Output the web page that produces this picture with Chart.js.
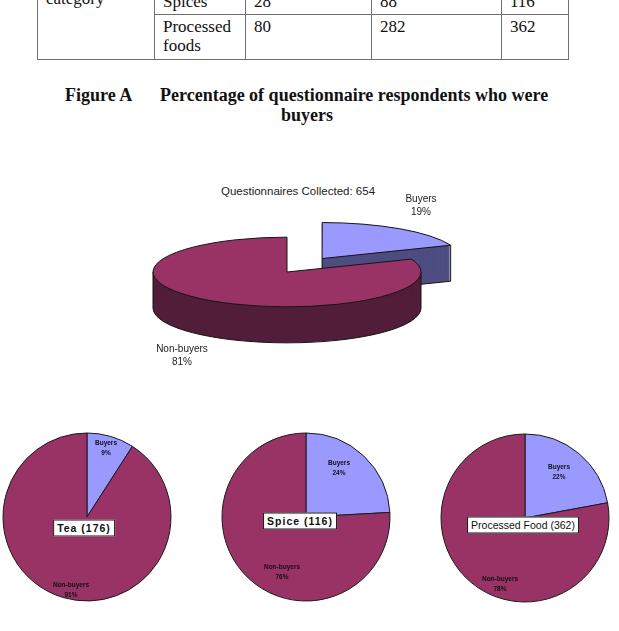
<!DOCTYPE html>
<html>
<head>
<meta charset="utf-8">
<script src="https://cdn.jsdelivr.net/npm/chart.js@4/dist/chart.umd.min.js"></script>
<style>
  body { margin:0; width:619px; height:631px; overflow:hidden; background:#fff; position:relative; font-family:"Liberation Serif", serif; color:#111; }
  #tbl { position:absolute; left:37px; top:-30px; border-collapse:collapse; table-layout:fixed; width:531px; font-size:17px; line-height:19px; }
  #tbl td { border:1px solid #707070; padding:0 6px 0 8px; vertical-align:top; }
  #tbl tr.r1 td { vertical-align:bottom; padding-bottom:3px; }
  #tbl tr.r2 td { padding-top:2px; }
  #tbl td.cat { vertical-align:top !important; padding-top:18px; }
  .fig { position:absolute; font-weight:bold; font-size:18px; white-space:nowrap; }
  canvas { position:absolute; }
  .lbl { position:absolute; transform:translate(-50%,-50%); text-align:center; white-space:nowrap; font-family:"Liberation Sans", sans-serif; }
  .big { font-size:10px; line-height:13px; color:#222; }
  .small { font-size:6.5px; line-height:10px; color:#111; font-weight:bold; }
  .box { position:absolute; transform:translate(-50%,-50%); background:#fff; border:1px solid #111; font-family:"Liberation Sans", sans-serif; font-size:10.5px; line-height:15px; padding:0 3px; white-space:nowrap; }
</style>
</head>
<body>

<table id="tbl">
  <colgroup><col style="width:117px"><col style="width:91px"><col style="width:126px"><col style="width:130px"><col style="width:67px"></colgroup>
  <tbody id="tbody"></tbody>
</table>

<div class="fig" style="left:65px;top:85px;">Figure A</div>
<div class="fig" style="left:160px;top:85px;">Percentage of questionnaire respondents who were</div>
<div class="fig" style="left:307px;top:105px;transform:translateX(-50%);">buyers</div>

<div class="lbl" id="bigTitle" style="left:298px;top:191px;font-size:11.5px;color:#222;"></div>
<canvas id="bigPie" width="400" height="200" style="left:87px;top:172px;"></canvas>

<canvas id="pie0" width="180" height="180" style="left:-3px;top:427px;"></canvas>
<canvas id="pie1" width="180" height="180" style="left:216px;top:427px;"></canvas>
<canvas id="pie2" width="180" height="180" style="left:435px;top:428px;"></canvas>

<div id="labels"></div>

<script>
// data
var categories = ['Tea', 'Spice', 'Processed Food'];
var buyers = [16, 28, 80];
var nonBuyers = [160, 88, 282];
var sliceLabels = ['Buyers', 'Non-buyers'];
var tableRows = ['Spices', 'Processed foods'];
var tableIndex = [1, 2];

var pieColors = ['#9999ff', '#993366'];
var sideColors = ['#4d4d82', '#521d38'];

function sum(arr) {
  var s = 0;
  for (var i = 0; i < arr.length; i++) s = s + arr[i];
  return s;
}
function pct(v, total) {
  return Math.round(100 * v / total) + '%';
}

// table (only the bottom rows are on the page)
var tb = document.getElementById('tbody');
var html = '';
for (var i = 0; i < tableRows.length; i++) {
  var j = tableIndex[i];
  html += '<tr class="r' + (i + 1) + '" style="height:' + (i == 0 ? 44 : 45) + 'px">';
  if (i == 0) html += '<td class="cat" rowspan="2">category</td>';
  html += '<td>' + tableRows[i] + '</td><td>' + buyers[j] + '</td><td>' + nonBuyers[j] + '</td><td>' + (buyers[j] + nonBuyers[j]) + '</td></tr>';
}
tb.innerHTML = html;

// geometry of an arc as Chart.js draws it, flattened by k
function geom(a, k) {
  var off = (a.options.offset || 0) / 4;
  var h = (a.startAngle + a.endAngle) / 2;
  var fix = 1 - Math.sin(Math.min(Math.PI, a.circumference));
  return {
    x: a.x + Math.cos(h) * off,
    y: a.y + Math.sin(h) * off * k,
    r: a.outerRadius + off * fix,
    s: a.startAngle,
    e: a.endAngle
  };
}

function drawSide(ctx, a, k, depth, color) {
  var g = geom(a, k);
  var ry = g.r * k;
  ctx.save();
  ctx.fillStyle = color;
  for (var d = 1; d <= depth; d++) {
    ctx.beginPath();
    ctx.moveTo(g.x, g.y + d);
    ctx.ellipse(g.x, g.y + d, g.r, ry, 0, g.s, g.e);
    ctx.closePath();
    ctx.fill();
  }
  ctx.strokeStyle = '#151515';
  ctx.lineWidth = 1;
  ctx.beginPath();
  var bases = [0, 2 * Math.PI, -2 * Math.PI];
  for (var b = 0; b < bases.length; b++) {
    var s = Math.max(g.s, bases[b]), e = Math.min(g.e, bases[b] + Math.PI);
    if (e > s) {
      ctx.moveTo(g.x + g.r * Math.cos(s), g.y + ry * Math.sin(s));
      ctx.lineTo(g.x + g.r * Math.cos(s), g.y + ry * Math.sin(s) + depth);
      ctx.ellipse(g.x, g.y + depth, g.r, ry, 0, s, e);
      ctx.lineTo(g.x + g.r * Math.cos(e), g.y + ry * Math.sin(e));
    }
  }
  var edges = [];
  if (Math.cos(g.e) > 0.01) edges.push(g.e);
  if (Math.cos(g.s) < -0.01) edges.push(g.s);
  for (var n = 0; n < edges.length; n++) {
    var ex = g.x + g.r * Math.cos(edges[n]), ey = g.y + ry * Math.sin(edges[n]);
    ctx.moveTo(g.x, g.y);
    ctx.lineTo(g.x, g.y + depth);
    ctx.lineTo(ex, ey + depth);
    ctx.lineTo(ex, ey);
  }
  ctx.stroke();
  ctx.restore();
}

var pie3d = {
  id: 'pie3d',
  beforeDatasetsDraw: function (chart, args, opts) {
    var ctx = chart.ctx;
    var arcs = chart.getDatasetMeta(0).data;
    for (var i = 0; i < arcs.length; i++) {
      drawSide(ctx, arcs[i], opts.tilt, opts.depth, opts.sideColors[i]);
    }
    var cx = arcs[0].x, cy = arcs[0].y;
    ctx.save();
    ctx.translate(cx, cy);
    ctx.scale(1, opts.tilt);
    ctx.translate(-cx, -cy);
  },
  afterDatasetsDraw: function (chart, args, opts) {
    var ctx = chart.ctx;
    ctx.restore();
    var arcs = chart.getDatasetMeta(0).data;
    ctx.save();
    ctx.strokeStyle = '#151515';
    ctx.lineWidth = 1;
    for (var i = 0; i < arcs.length; i++) {
      var g = geom(arcs[i], opts.tilt);
      ctx.beginPath();
      ctx.moveTo(g.x, g.y);
      ctx.ellipse(g.x, g.y, g.r, g.r * opts.tilt, 0, g.s, g.e);
      ctx.closePath();
      ctx.stroke();
    }
    ctx.restore();
  }
};

var totalBuyers = sum(buyers);
var totalNon = sum(nonBuyers);
var total = totalBuyers + totalNon;

new Chart(document.getElementById('bigPie'), {
  type: 'pie',
  data: {
    labels: sliceLabels,
    datasets: [{
      data: [totalBuyers, totalNon],
      backgroundColor: pieColors,
      borderWidth: 0,
      offset: [250, 0],
      hoverOffset: 0,
      clip: false
    }]
  },
  options: {
    responsive: false,
    animation: false,
    events: [],
    radius: 134,
    cutout: '0%',
    layout: { padding: 0 },
    plugins: {
      legend: { display: false },
      tooltip: { enabled: false },
      pie3d: { tilt: 0.26, depth: 36, sideColors: sideColors }
    }
  },
  plugins: [pie3d]
});

for (var p = 0; p < categories.length; p++) {
  new Chart(document.getElementById('pie' + p), {
    type: 'pie',
    data: {
      labels: sliceLabels,
      datasets: [{
        data: [buyers[p], nonBuyers[p]],
        backgroundColor: pieColors,
        borderColor: '#1a1a1a',
        borderWidth: 1,
        hoverOffset: 0
      }]
    },
    options: {
      responsive: false,
      animation: false,
      events: [],
      radius: 84,
      layout: { padding: 0 },
      plugins: { legend: { display: false }, tooltip: { enabled: false } }
    }
  });
}

// text labels
document.getElementById('bigTitle').textContent = 'Questionnaires Collected: ' + total;

var bigLabelPos = [[421, 205], [182, 355]];
var smallLabelPos = [
  [[106, 448], [71, 590]],
  [[339, 468], [282, 572]],
  [[559, 472], [500, 584]]
];
var boxPos = [[84, 528], [300, 521], [523, 525]];
var boxBold = [true, true, false];

var out = '';
var bigVals = [totalBuyers, totalNon];
for (var i = 0; i < 2; i++) {
  out += '<div class="lbl big" style="left:' + bigLabelPos[i][0] + 'px;top:' + bigLabelPos[i][1] + 'px">' +
    sliceLabels[i] + '<br>' + pct(bigVals[i], total) + '</div>';
}
for (var p = 0; p < categories.length; p++) {
  var t = buyers[p] + nonBuyers[p];
  var vals = [buyers[p], nonBuyers[p]];
  for (var i = 0; i < 2; i++) {
    out += '<div class="lbl small" style="left:' + smallLabelPos[p][i][0] + 'px;top:' + smallLabelPos[p][i][1] + 'px">' +
      sliceLabels[i] + '<br>' + pct(vals[i], t) + '</div>';
  }
  out += '<div class="box" style="left:' + boxPos[p][0] + 'px;top:' + boxPos[p][1] + 'px;' +
    (boxBold[p] ? 'font-weight:bold;letter-spacing:1px;' : '') + '">' + categories[p] + ' (' + t + ')</div>';
}
document.getElementById('labels').innerHTML = out;
</script>
</body>
</html>
